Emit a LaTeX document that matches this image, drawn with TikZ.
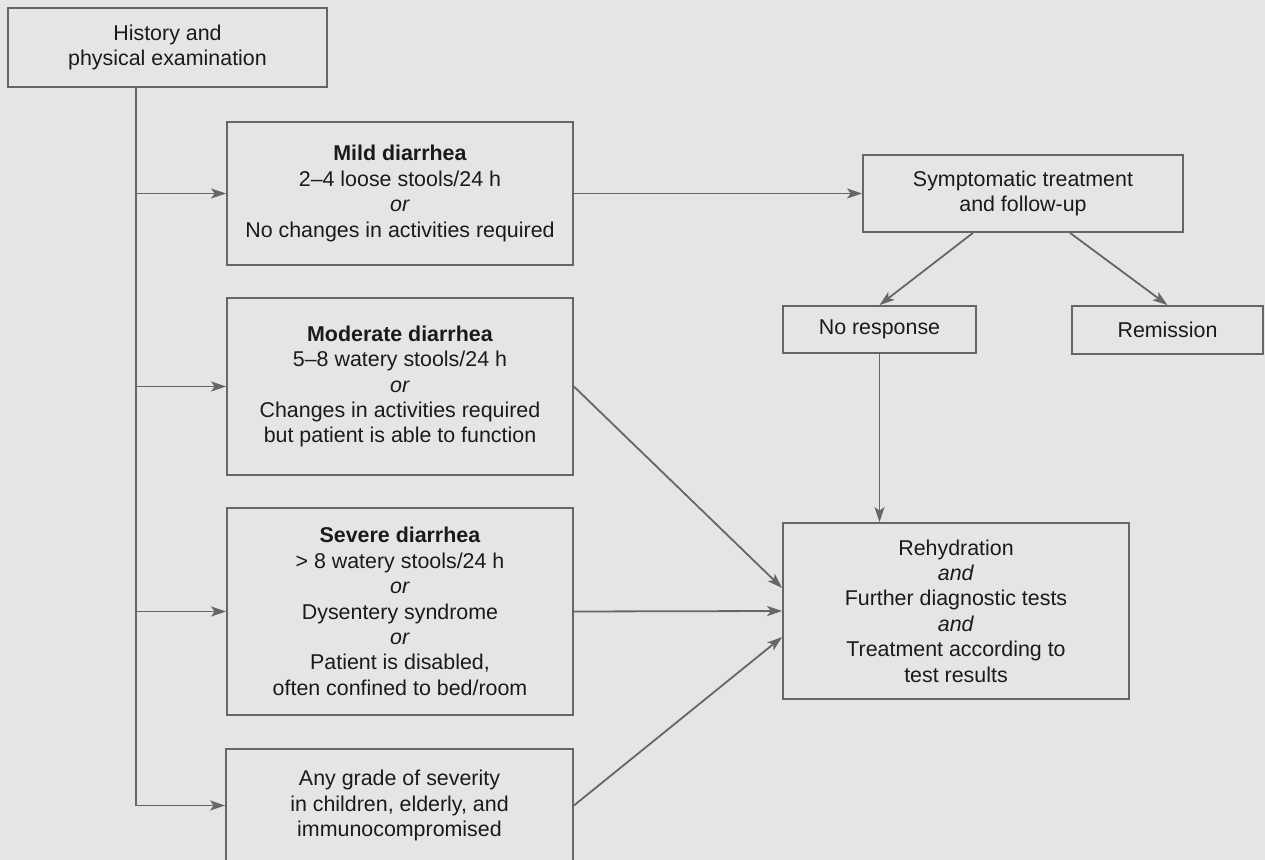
\documentclass[tikz,border=0pt]{standalone}
\usepackage{fontspec}
\setmainfont{Liberation Sans}
\usepackage{tikz}
\usetikzlibrary{arrows.meta, positioning, calc}
\usepackage{xcolor}
\definecolor{pagegray}{HTML}{E5E5E5}
\definecolor{linegray}{HTML}{666666}
\definecolor{inkgray}{HTML}{1A1A1A}

\tikzset{
  flowbox/.style={rectangle, draw=linegray, line width=0.9pt, align=center,
      inner sep=0pt, text=inkgray, font=\fontsize{10.7}{12.7}\selectfont},
  flowarrow/.style={draw=linegray, line width=0.9pt,
      -{Stealth[length=7.5pt, width=5pt, inset=1.8pt]}}
}

\begin{document}
\begin{tikzpicture}[x=0.5pt, y=-0.5pt]
\fill[pagegray] (0,0) rectangle (1265,860);
\useasboundingbox (0,0) rectangle (1265,860);

\node[flowbox, minimum width=159.5pt, minimum height=39.5pt] (hist) at (167.5,47.5)
  {History and\\physical examination};
\node[flowbox, minimum width=173pt, minimum height=71.5pt] (mild) at (400,193.5)
  {\textbf{Mild diarrhea}\\2--4 loose stools/24 h\\\textit{or}\\No changes in activities required};
\node[flowbox, minimum width=173pt, minimum height=88.5pt] (mod) at (400,386.5)
  {\textbf{Moderate diarrhea}\\5--8 watery stools/24 h\\\textit{or}\\Changes in activities required\\but patient is able to function};
\node[flowbox, minimum width=173pt, minimum height=103.5pt] (sev) at (400,611.5)
  {\textbf{Severe diarrhea}\\> 8 watery stools/24 h\\\textit{or}\\Dysentery syndrome\\\textit{or}\\Patient is disabled,\\often confined to bed/room};
\node[flowbox, minimum width=173.5pt, minimum height=56.5pt] (any) at (399.5,805.5)
  {Any grade of severity\\in children, elderly, and\\immunocompromised};
\node[flowbox, minimum width=160pt, minimum height=38.5pt] (symp) at (1023,193.5)
  {Symptomatic treatment\\and follow-up};
\node[flowbox, minimum width=96.5pt, minimum height=23.5pt] (nores) at (879.5,329.5)
  {No response};
\node[flowbox, minimum width=95.5pt, minimum height=24pt] (rem) at (1167.5,330)
  {Remission};
\node[flowbox, minimum width=173pt, minimum height=88pt] (rehyd) at (956,611)
  {Rehydration\\\textit{and}\\Further diagnostic tests\\\textit{and}\\Treatment according to\\test results};

\coordinate (trunk) at ([xshift=-15.75pt]hist.south);
\draw[flowarrow] (trunk) |- (any.west);
\foreach \grade in {mild, mod, sev}
  \draw[flowarrow] (trunk |- \grade.west) -- (\grade.west);

\draw[flowarrow] (mild.east) -- (symp.west);
\draw[flowarrow] ([xshift=-25pt]symp.south) -- (nores.north);
\draw[flowarrow] ([xshift=23.5pt]symp.south) -- (rem.north);
\draw[flowarrow] (nores.south) -- (nores.south |- rehyd.north);

\draw[flowarrow] (mod.east) -- ([yshift=11.5pt]rehyd.west);
\draw[flowarrow] (sev.east) -- (rehyd.west);
\draw[flowarrow] (any.east) -- ([yshift=-13pt]rehyd.west);
\end{tikzpicture}
\end{document}
